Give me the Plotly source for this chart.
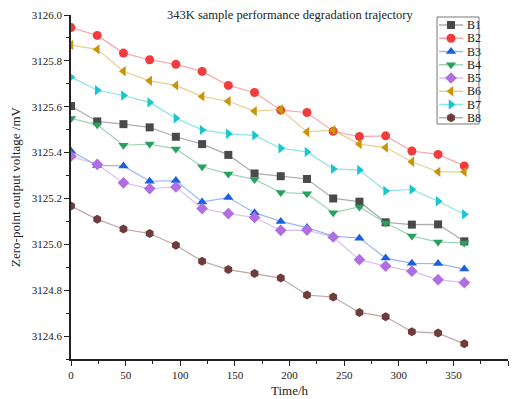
import plotly.graph_objects as go

time_h = [0, 24, 48, 72, 96, 120, 144, 168, 192, 216, 240, 264, 288, 312, 336, 360]

B1 = [3125.603, 3125.536, 3125.524, 3125.510, 3125.469, 3125.437, 3125.390, 3125.309,
      3125.297, 3125.285, 3125.200, 3125.186, 3125.096, 3125.086, 3125.087, 3125.013]
B2 = [3125.945, 3125.911, 3125.834, 3125.805, 3125.785, 3125.754, 3125.693, 3125.662,
      3125.585, 3125.575, 3125.493, 3125.470, 3125.473, 3125.407, 3125.392, 3125.342]
B3 = [3125.407, 3125.344, 3125.342, 3125.275, 3125.278, 3125.185, 3125.204, 3125.138,
      3125.100, 3125.073, 3125.036, 3125.027, 3124.940, 3124.917, 3124.916, 3124.892]
B4 = [3125.549, 3125.521, 3125.432, 3125.437, 3125.416, 3125.338, 3125.307, 3125.283,
      3125.226, 3125.221, 3125.138, 3125.163, 3125.093, 3125.036, 3125.010, 3125.006]
B5 = [3125.384, 3125.349, 3125.268, 3125.243, 3125.250, 3125.156, 3125.134, 3125.117,
      3125.061, 3125.062, 3125.032, 3124.933, 3124.905, 3124.883, 3124.846, 3124.833]
B6 = [3125.869, 3125.850, 3125.755, 3125.713, 3125.693, 3125.645, 3125.624, 3125.581,
      3125.588, 3125.490, 3125.498, 3125.437, 3125.422, 3125.360, 3125.316, 3125.316]
B7 = [3125.729, 3125.672, 3125.649, 3125.619, 3125.550, 3125.499, 3125.482, 3125.475,
      3125.419, 3125.403, 3125.329, 3125.324, 3125.233, 3125.239, 3125.188, 3125.131]
B8 = [3125.167, 3125.109, 3125.067, 3125.047, 3124.996, 3124.926, 3124.890, 3124.873,
      3124.853, 3124.779, 3124.770, 3124.703, 3124.684, 3124.619, 3124.613, 3124.566]

series = [
    ("B1", B1, "#4a4a4a", "rgba(74,74,74,0.45)", "square", 8),
    ("B2", B2, "#f23c3c", "rgba(242,60,60,0.45)", "circle", 9),
    ("B3", B3, "#1a5fe0", "rgba(26,95,224,0.45)", "triangle-up", 9),
    ("B4", B4, "#2aa05e", "rgba(42,160,94,0.45)", "triangle-down", 9),
    ("B5", B5, "#b06ee0", "rgba(176,110,224,0.45)", "diamond", 9),
    ("B6", B6, "#c89608", "rgba(200,150,8,0.45)", "triangle-left", 9),
    ("B7", B7, "#18c6d0", "rgba(24,198,208,0.5)", "triangle-right", 9),
    ("B8", B8, "#6e3c3c", "rgba(110,60,60,0.45)", "hexagon", 9),
]

font_family = "Liberation Serif"

fig = go.Figure()
for name, vals, mc, lc, sym, sz in series:
    fig.add_trace(go.Scatter(
        x=time_h, y=vals, name=name, mode="lines+markers", showlegend=False,
        line=dict(color=lc, width=1.2),
        marker=dict(symbol=sym, size=sz, color=mc, line=dict(width=0)),
    ))

# Compact Origin-style legend drawn on an overlay axis measured in pixels
LEG_LEFT, LEG_RIGHT, LEG_TOP, LEG_BOTTOM = 437, 479, 17, 124
LEG_Y0, LEG_STEP = 25, 13.25
annotations = []
for i, (name, vals, mc, lc, sym, sz) in enumerate(series):
    yy = LEG_Y0 + i * LEG_STEP
    fig.add_trace(go.Scatter(
        x=[439, 463], y=[yy, yy], mode="lines", xaxis="x2", yaxis="y2",
        showlegend=False, hoverinfo="skip", line=dict(color=lc, width=1.5)))
    fig.add_trace(go.Scatter(
        x=[451], y=[yy], mode="markers", xaxis="x2", yaxis="y2",
        showlegend=False, hoverinfo="skip",
        marker=dict(symbol=sym, size=sz, color=mc, line=dict(width=0))))
    annotations.append(dict(text=name, x=465, y=yy, xref="x2", yref="y2",
                            xanchor="left", yanchor="middle", showarrow=False,
                            font=dict(family=font_family, size=12, color="#222")))

annotations.append(dict(text="343K sample performance degradation trajectory",
                        x=0.5, y=1.0, xref="paper", yref="paper",
                        xanchor="center", yanchor="middle", showarrow=False,
                        font=dict(family=font_family, size=12.5, color="#222")))

axis_common = dict(
    showgrid=False, zeroline=False, showline=True, linecolor="#222", linewidth=1.5,
    ticks="outside", ticklen=5, tickwidth=1.2, tickcolor="#222",
    tickfont=dict(family=font_family, size=11, color="#222"),
    minor=dict(ticks="outside", ticklen=3, tickcolor="#222", tickwidth=1),
    mirror=False,
)

fig.update_layout(
    width=512, height=399,
    margin=dict(l=71, r=4, t=15, b=40),
    paper_bgcolor="white", plot_bgcolor="white",
    font=dict(family=font_family, size=12, color="#222"),
    showlegend=False,
    xaxis=dict(range=[0, 400], dtick=50, tick0=0,
               title=dict(text="Time/h", font=dict(family=font_family, size=13), standoff=6),
               **axis_common),
    yaxis=dict(range=[3124.5, 3126.0], dtick=0.2, tick0=3124.6, tickformat=".1f",
               title=dict(text="Zero-point output voltage /mV", font=dict(family=font_family, size=13), standoff=8),
               **axis_common),
    xaxis2=dict(range=[71, 508], overlaying="x", visible=False, fixedrange=True),
    yaxis2=dict(range=[359, 15], overlaying="y", visible=False, fixedrange=True),
    shapes=[dict(type="rect", xref="x2", yref="y2", x0=LEG_LEFT, x1=LEG_RIGHT,
                 y0=LEG_TOP, y1=LEG_BOTTOM, line=dict(color="#777", width=1),
                 fillcolor="rgba(255,255,255,0)", layer="above")],
    annotations=annotations,
)
fig.update_xaxes(minor=dict(dtick=25), selector=dict(overlaying=None))
fig.layout.xaxis.minor.dtick = 25
fig.layout.yaxis.minor.dtick = 0.1

fig.write_html("out.html")
